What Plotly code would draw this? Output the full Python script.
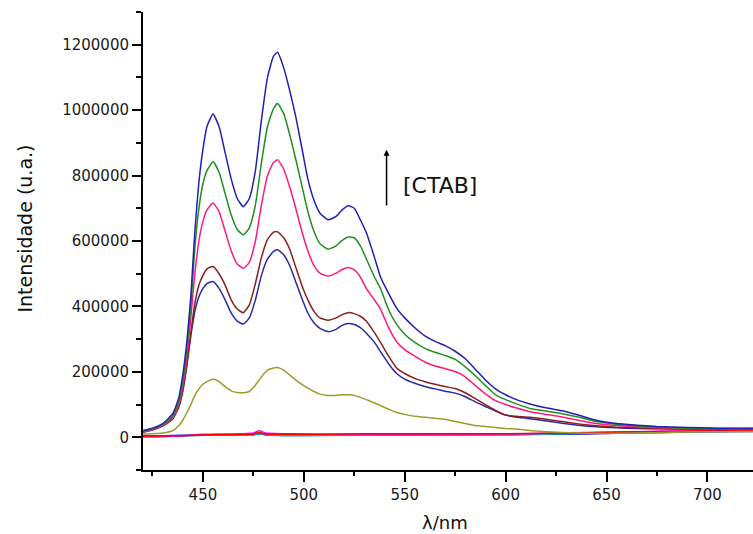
import plotly.graph_objects as go

# wavelength grid (nm) for the emission spectra
wavelength = [420, 425, 430, 435, 438, 440, 442, 444, 446, 448, 450, 452, 455, 458, 461, 464, 467,
              470, 473, 476, 479, 482, 485, 487, 490, 493, 496, 499, 502, 505, 508, 512, 516, 519,
              522, 525, 528, 531, 535, 538, 542, 546, 550, 555, 560, 565, 570, 575, 580, 585, 590,
              595, 600, 605, 612, 620, 628, 636, 645, 655, 665, 675, 690, 705, 723]

blue_top = [20, 28, 42, 72, 120, 190, 290, 430, 630, 780, 880, 950, 988, 950, 870, 790, 730,
            705, 730, 815, 970, 1100, 1165, 1177, 1130, 1060, 980, 885, 790, 725, 685, 665, 675, 695,
            708, 700, 665, 625, 550, 490, 440, 395, 365, 335, 310, 293, 280, 263, 240, 208, 175,
            148, 130, 116, 102, 90, 81, 68, 52, 42, 37, 33, 30, 28, 28]

green = [18, 26, 38, 65, 108, 170, 265, 400, 580, 700, 775, 815, 842, 810, 745, 680, 635,
         619, 640, 710, 840, 950, 1005, 1020, 990, 925, 850, 770, 690, 630, 592, 575, 585, 602,
         612, 610, 585, 545, 490, 455, 390, 345, 315, 290, 272, 260, 250, 238, 215, 188, 158,
         130, 115, 103, 88, 80, 72, 62, 48, 40, 35, 31, 28, 27, 27]

pink = [16, 24, 36, 60, 100, 155, 245, 365, 500, 600, 660, 695, 716, 690, 630, 570, 530,
        517, 535, 600, 710, 800, 840, 848, 820, 765, 700, 630, 570, 525, 502, 493, 502, 513,
        519, 512, 490, 455, 420, 392, 335, 292, 268, 248, 230, 218, 210, 201, 185, 158, 133,
        112, 100, 90, 78, 70, 62, 52, 42, 36, 32, 29, 27, 26, 26]

darkred = [15, 22, 34, 56, 92, 140, 220, 320, 410, 465, 495, 515, 522, 500, 465, 420, 392,
           381, 405, 470, 550, 605, 627, 628, 610, 575, 520, 465, 420, 385, 365, 358, 365, 375,
           381, 378, 370, 355, 320, 290, 248, 212, 195, 180, 170, 162, 155, 149, 136, 118, 100,
           82, 68, 64, 61, 55, 48, 41, 35, 31, 29, 27, 25, 24, 25]

blue_low = [17, 24, 36, 58, 95, 145, 220, 310, 385, 430, 455, 470, 476, 455, 420, 380, 355,
            346, 365, 420, 495, 545, 568, 573, 558, 525, 475, 425, 380, 350, 333, 323, 330, 342,
            348, 345, 335, 318, 290, 262, 225, 195, 178, 165, 155, 148, 141, 135, 124, 108, 94,
            80, 68, 62, 57, 50, 43, 37, 32, 29, 27, 26, 25, 24, 25]

olive = [10, 11, 13, 20, 35, 52, 75, 100, 128, 148, 162, 170, 178, 170, 155, 142, 137,
         136, 140, 160, 185, 205, 212, 213, 205, 190, 175, 162, 150, 140, 132, 128, 128, 130,
         130, 128, 122, 115, 105, 97, 86, 76, 70, 64, 61, 58, 55, 48, 42, 36, 33,
         30, 27, 25, 21, 17, 15, 13, 12, 12, 13, 14, 16, 17, 18]

# near-zero spectra
wavelength_base = [420, 430, 440, 450, 460, 470, 475, 478, 481, 490, 500, 520, 540, 560, 580,
                   600, 620, 640, 660, 680, 700, 723]
blue_base = [5, 5, 6, 7, 7, 7, 8, 12, 8, 6, 6, 7, 7, 8, 8, 8, 9, 10, 13, 15, 17, 18]
teal_base = [3, 3, 4, 6, 6, 6, 7, 10, 7, 5, 5, 6, 6, 7, 7, 8, 9, 12, 14, 16, 18, 19]
magenta_base = [1, 2, 5, 9, 10, 11, 13, 20, 13, 11, 10, 9, 8, 8, 9, 10, 12, 15, 17, 19, 20, 21]
red_base = [4, 4, 5, 7, 8, 9, 10, 15, 10, 9, 9, 10, 11, 11, 11, 11, 12, 14, 16, 18, 20, 21]

y_ticks = [0, 200000, 400000, 600000, 800000, 1000000, 1200000]
x_ticks = [450, 500, 550, 600, 650, 700]

K = 1000
fig = go.Figure()

def add(x, vals, color):
    fig.add_trace(go.Scatter(x=x, y=[v * K for v in vals], mode="lines",
                             line=dict(color=color, width=1.5, shape="spline", smoothing=0.5),
                             showlegend=False, hoverinfo="skip"))

add(wavelength_base, blue_base, "#1010e0")
add(wavelength_base, teal_base, "#20a0a0")
add(wavelength_base, magenta_base, "#ff00ff")
add(wavelength_base, red_base, "#ff0000")
add(wavelength, olive, "#9c9c2c")
add(wavelength, blue_low, "#2a2aa8")
add(wavelength, darkred, "#8b1e1e")
add(wavelength, pink, "#ff1a80")
add(wavelength, green, "#1f8f1f")
add(wavelength, blue_top, "#2020b4")

tickfont = dict(family="DejaVu Sans", size=15, color="#1a1a1a")

fig.update_layout(
    width=753, height=534,
    margin=dict(l=143, r=0, t=12, b=64),
    paper_bgcolor="white", plot_bgcolor="white",
    xaxis=dict(range=[420.3, 722.6], tickvals=x_ticks, ticktext=[str(t) for t in x_ticks],
               showgrid=False, zeroline=False, showline=True, linecolor="black", linewidth=2,
               ticks="outside", ticklen=10, tickwidth=1.5, tickcolor="black", tickfont=tickfont,
               minor=dict(dtick=25, tick0=425, ticks="outside", ticklen=4, tickwidth=1.5,
                          tickcolor="black", showgrid=False)),
    yaxis=dict(range=[-100000, 1300000], tickvals=y_ticks, ticktext=[str(t) for t in y_ticks],
               showgrid=False, zeroline=False, showline=True, linecolor="black", linewidth=2,
               ticks="outside", ticklen=9, tickwidth=1.5, tickcolor="black", tickfont=tickfont,
               minor=dict(dtick=100000, tick0=0, ticks="outside", ticklen=5, tickwidth=1.5,
                          tickcolor="black", showgrid=False)),
    annotations=[
        dict(text="Intensidade (u.a.)", textangle=-90, xref="paper", yref="paper",
             x=0, y=0.526, xanchor="center", yanchor="middle", xshift=-117.5, showarrow=False,
             font=dict(family="DejaVu Sans", size=19, color="#111")),
        dict(text="λ/nm", xref="x", yref="paper", x=569.8, y=0, xanchor="center",
             yanchor="middle", yshift=-52, showarrow=False,
             font=dict(family="DejaVu Sans", size=18, color="#111")),
        dict(text="[CTAB]", xref="x", yref="y", x=548.0, y=769000, xanchor="left",
             yanchor="middle", showarrow=False,
             font=dict(family="DejaVu Sans", size=22, color="#111")),
        dict(text="", xref="x", yref="y", x=541.0, y=879000, axref="x", ayref="y",
             ax=541.0, ay=704000, showarrow=True, arrowhead=2, arrowsize=0.8,
             arrowwidth=1.5, arrowcolor="black"),
    ],
)

fig.write_html("out.html", config={"displayModeBar": False},
               post_script="document.body.style.margin='0px';")
